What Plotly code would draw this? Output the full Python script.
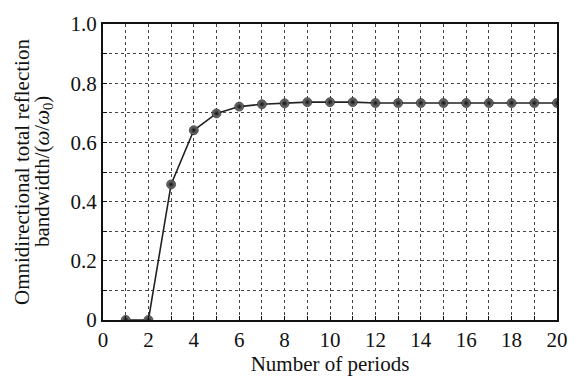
import plotly.graph_objects as go

periods = list(range(1, 21))
bandwidth = [0.0, 0.0, 0.458, 0.641, 0.698, 0.721, 0.729, 0.732, 0.736, 0.736,
             0.736, 0.733, 0.733, 0.733, 0.733, 0.733, 0.733, 0.733, 0.733, 0.733]
x_ticks = [0, 2, 4, 6, 8, 10, 12, 14, 16, 18, 20]
y_ticks = [0, 0.2, 0.4, 0.6, 0.8, 1.0]
y_tick_text = ["0", "0.2", "0.4", "0.6", "0.8", "1.0"]

FONT = "Liberation Serif, Times New Roman, serif"
FS = 21

fig = go.Figure()
fig.add_trace(go.Scatter(
    x=periods, y=bandwidth, mode="lines+markers",
    line=dict(color="#222222", width=1.6),
    marker=dict(size=9, color="#808080",
                gradient=dict(type="radial", color="#111111"),
                line=dict(color="#111111", width=0.6)),
    showlegend=False,
))

grid = dict(showgrid=True, gridcolor="#444444", gridwidth=1, griddash="dot")
fig.update_xaxes(
    range=[0, 20], tickvals=x_ticks, ticktext=[str(v) for v in x_ticks],
    ticks="inside", ticklen=4, tickcolor="#111", tickwidth=1,
    showline=True, linecolor="#111111", linewidth=2, mirror=True,
    zeroline=False, **grid,
    minor=dict(dtick=1, tick0=0, ticks="inside", ticklen=4, tickcolor="#111",
               showgrid=True, gridcolor="#444444", gridwidth=1, griddash="dot"),
    tickfont=dict(family=FONT, size=FS, color="#111"),
    title=dict(text="Number of periods", font=dict(family=FONT, size=FS, color="#111"), standoff=2),
)
fig.update_yaxes(
    range=[0, 1.0], tickvals=y_ticks, ticktext=y_tick_text,
    ticks="inside", ticklen=4, tickcolor="#111", tickwidth=1,
    showline=True, linecolor="#111111", linewidth=2, mirror=True,
    zeroline=False, **grid,
    minor=dict(dtick=0.1, tick0=0, ticks="inside", ticklen=4, tickcolor="#111",
               showgrid=True, gridcolor="#444444", gridwidth=1, griddash="dot"),
    tickfont=dict(family=FONT, size=FS, color="#111"),
)

fig.add_annotation(
    text="Omnidirectional total reflection", textangle=-90,
    xref="paper", yref="paper", x=0, y=0.5, xshift=-81, xanchor="center", yanchor="middle",
    showarrow=False, font=dict(family=FONT, size=FS, color="#111"),
)
fig.add_annotation(
    text="bandwidth/(<i>ω</i>/<i>ω</i><sub>0</sub>)", textangle=-90,
    xref="paper", yref="paper", x=0, y=0.5, xshift=-60, xanchor="center", yanchor="middle",
    showarrow=False, font=dict(family=FONT, size=FS, color="#111"),
)

fig.update_layout(
    width=581, height=381,
    margin=dict(l=103, r=24, t=17, b=58),
    paper_bgcolor="white", plot_bgcolor="white",
)
fig.write_html("out.html")
